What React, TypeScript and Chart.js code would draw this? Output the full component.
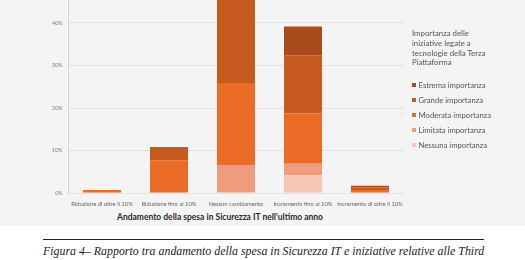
import React, { useEffect, useRef } from "react";
import { Chart, registerables } from "chart.js";

Chart.register(...registerables);

const categories = [
  "Riduzione di oltre il 10%",
  "Riduzione fino al 10%",
  "Nessun cambiamento",
  "Incremento fino al 10%",
  "Incremento di oltre il 10%",
];

const estrema = [0, 0, 3, 6.8, 0.4];
const grande = [0, 3.1, 21, 13.7, 0.6];
const moderata = [0.7, 7.7, 19.3, 11.8, 0.7];
const limitata = [0, 0, 6.6, 2.7, 0];
const nessuna = [0, 0, 0, 4.2, 0];

const seriesNames = [
  "Estrema importanza",
  "Grande importanza",
  "Moderata importanza",
  "Limitata importanza",
  "Nessuna importanza",
];
const seriesValues = [estrema, grande, moderata, limitata, nessuna];
const seriesColors = ["#a84c1b", "#c65a1f", "#ea6c27", "#ef9b7e", "#f6c6b5"];

const yMin = 0;
const yMax = 50;
const yStep = 10;

const legendTitle = ["Importanza delle", "iniziative legate a", "tecnologie della Terza", "Piattaforma"];
const axisTitle = "Andamento della spesa in Sicurezza IT nell'ultimo anno";
const caption =
  "Figura 4– Rapporto tra andamento della spesa in Sicurezza IT e iniziative relative alle Third";

const FONT = "Lato, 'Open Sans', sans-serif";

export default function App() {
  const canvasRef = useRef<HTMLCanvasElement | null>(null);

  useEffect(() => {
    const canvas = canvasRef.current;
    if (!canvas) return;
    // stack bottom-up: Nessuna, Limitata, Moderata, Grande, Estrema
    const order = [4, 3, 2, 1, 0];
    const chart = new Chart(canvas, {
      type: "bar",
      data: {
        labels: categories,
        datasets: order.map((i) => ({
          label: seriesNames[i],
          data: seriesValues[i],
          backgroundColor: seriesColors[i],
          borderWidth: 0,
          barPercentage: 0.567,
          categoryPercentage: 1,
        })),
      },
      options: {
        responsive: false,
        animation: false,
        devicePixelRatio: 1,
        layout: { padding: { top: 20.5, left: 0, right: 121.5, bottom: 0 } },
        plugins: {
          legend: { display: false },
          tooltip: { enabled: false },
          title: { display: false },
        },
        scales: {
          x: {
            stacked: true,
            grid: { display: false },
            border: { display: false },
            ticks: {
              font: { family: FONT, size: 5.8 },
              color: "#666",
              padding: 0,
              maxRotation: 0,
              minRotation: 0,
              autoSkip: false,
            },
            afterFit: (s: any) => {
              s.height = 17;
            },
          },
          y: {
            stacked: true,
            min: yMin,
            max: yMax,
            ticks: {
              stepSize: yStep,
              callback: (v: any) => v + "%",
              font: { family: FONT, size: 5.3 },
              color: "#7a7a7a",
              padding: 6,
            },
            grid: { color: "#e2e2e2", drawTicks: false, lineWidth: 1 },
            border: { color: "#d4d4d4", width: 1 },
            afterFit: (s: any) => {
              s.width = 68.5;
            },
          },
        },
      },
    });
    return () => chart.destroy();
  }, []);

  const legendItemsTop = 85;
  const legendItemGap = 15;

  return (
    <div
      style={{
        position: "fixed",
        left: 0,
        top: 0,
        width: 525,
        height: 260,
        overflow: "hidden",
        background: "#ffffff",
      }}
    >
      <div
        style={{
          position: "absolute",
          left: 0,
          top: 0,
          width: 525,
          height: 226,
          background: "#f4f4f4",
        }}
      />
      <canvas
        ref={canvasRef}
        width={525}
        height={250}
        style={{ position: "absolute", left: 0, top: -40, width: 525, height: 250 }}
      />
      <div
        style={{
          position: "absolute",
          left: 412,
          top: 29,
          fontFamily: FONT,
          fontSize: 7.8,
          lineHeight: "9.8px",
          color: "#555",
          whiteSpace: "nowrap",
        }}
      >
        {legendTitle.map((t, i) => (
          <div key={i}>{t}</div>
        ))}
      </div>
      {seriesNames.map((name, i) => (
        <div
          key={name}
          style={{
            position: "absolute",
            left: 412,
            top: legendItemsTop + i * legendItemGap - 5,
            height: 10,
            display: "flex",
            alignItems: "center",
            fontFamily: FONT,
            fontSize: 7.7,
            color: "#555",
            whiteSpace: "nowrap",
          }}
        >
          <span
            style={{
              display: "inline-block",
              width: 4,
              height: 4,
              background: seriesColors[i],
              marginRight: 2.5,
            }}
          />
          {name}
        </div>
      ))}
      <div
        style={{
          position: "absolute",
          left: 220 - 150,
          width: 300,
          top: 212,
          textAlign: "center",
          fontFamily: FONT,
          fontWeight: 700,
          fontSize: 8.5,
          color: "#2a2a2a",
          whiteSpace: "nowrap",
        }}
      >
        {axisTitle}
      </div>
      <div
        style={{
          position: "absolute",
          left: 43,
          top: 239,
          width: 441,
          height: 1,
          background: "#222",
        }}
      />
      <div
        style={{
          position: "absolute",
          left: 43,
          top: 243,
          fontFamily: "'Liberation Serif', 'DejaVu Serif', serif",
          fontStyle: "italic",
          fontSize: 13.5,
          color: "#222",
          whiteSpace: "nowrap",
          transform: "scaleX(0.88)",
          transformOrigin: "left top",
        }}
      >
        {caption}
      </div>
    </div>
  );
}
